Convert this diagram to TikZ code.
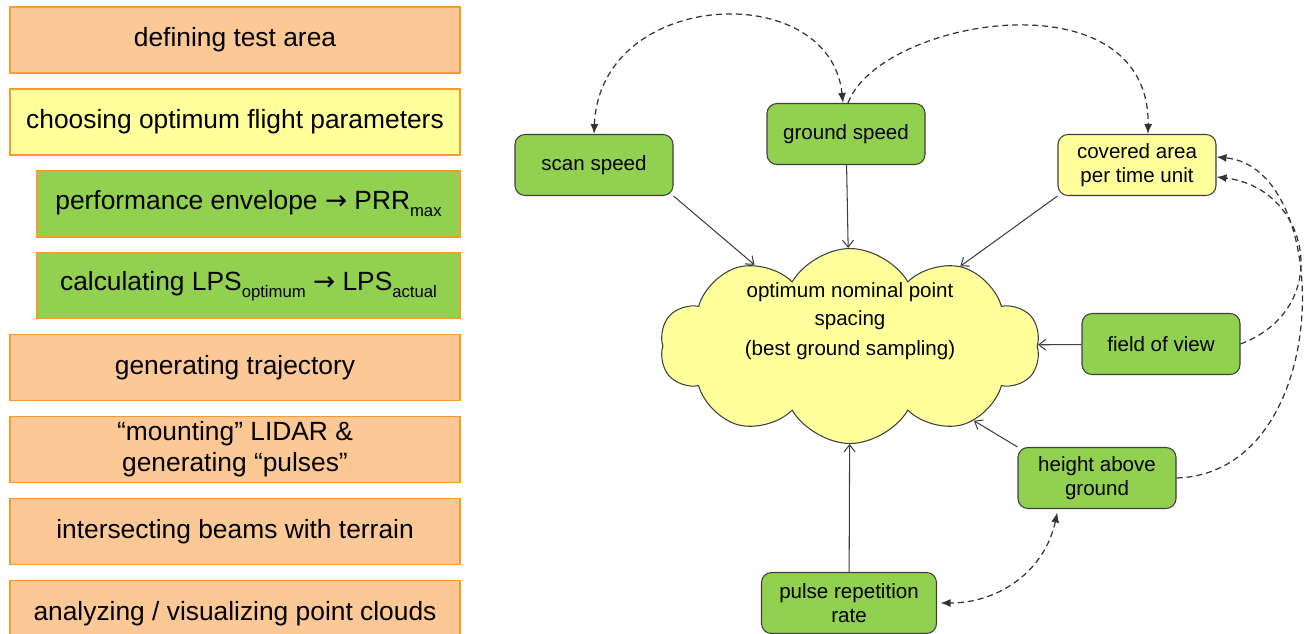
\documentclass[tikz,border=0pt]{standalone}
\usepackage{fontspec}
\setmainfont{Liberation Sans}
\newfontfamily\arrowfont{DejaVu Sans}
\usetikzlibrary{arrows.meta, positioning, shapes.symbols}

\definecolor{peach}{HTML}{FCC896}
\definecolor{peachline}{HTML}{F79B2E}
\definecolor{paleyellow}{HTML}{FFFF9C}
\definecolor{leafgreen}{HTML}{92D050}
\definecolor{boxline}{HTML}{3F3F3F}

\newcommand{\lowsub}[1]{\raisebox{-4pt}{\fontsize{9.5}{9.5}\selectfont #1}}
\newcommand{\thenarrow}{{\arrowfont →}}

\begin{document}
\begin{tikzpicture}

  % Define styles
  \tikzstyle{task} = [rectangle, draw=peachline, line width=0.8pt, fill=peach, minimum width=9cm, minimum height=1.32cm, inner sep=0pt, align=center, font=\fontsize{15}{17.6}\selectfont]
  \tikzstyle{task_sel} = [task, fill=paleyellow]
  \tikzstyle{task_sub} = [task, fill=leafgreen, minimum width=8.46cm]
  \tikzstyle{param} = [rectangle, rounded corners=2mm, draw=boxline, line width=0.6pt, fill=leafgreen, minimum width=3.16cm, minimum height=1.22cm, align=center, font=\fontsize{11.7}{14}\selectfont]
  \tikzstyle{param_hl} = [param, fill=paleyellow]
  \tikzstyle{spacing_cloud} = [cloud, cloud puffs=10, cloud puff arc=120, cloud ignores aspect, draw=boxline, line width=0.6pt, fill=paleyellow, minimum width=7.6cm, minimum height=3.9cm, inner sep=0pt, font=\fontsize{11.7}{15.9}\selectfont]
  \tikzstyle{link} = [draw=boxline, line width=0.6pt, -{Straight Barb[length=1.4mm, width=2.2mm]}]
  \tikzstyle{dep} = [draw=black!80, line width=0.7pt, dash pattern=on 1.2mm off 0.8mm, >={Latex[length=2mm, width=1.6mm]}]

  \useasboundingbox (0,0) rectangle (26.22,12.66);

  % Simulation workflow
  \node[task] (t1) at (4.7, 11.86) {defining test area};
  \node[task_sel] (t2) [below=0.29cm of t1] {choosing optimum flight parameters};
  \node[task_sub] (t3) [below=0.29cm of t2.south east, anchor=north east] {performance envelope \thenarrow{} PRR\lowsub{max}};
  \node[task_sub] (t4) [below=0.29cm of t3] {calculating LPS\lowsub{optimum} \thenarrow{} LPS\lowsub{actual}};
  \node[task] (t5) [below=0.29cm of t4.south east, anchor=north east] {generating trajectory};
  \node[task] (t6) [below=0.29cm of t5] {“mounting” LIDAR \&\\generating “pulses”};
  \node[task] (t7) [below=0.29cm of t6] {intersecting beams with terrain};
  \node[task] (t8) [below=0.29cm of t7] {analyzing / visualizing point clouds};

  % Flight parameters
  \node[param] (scan) at (11.88, 9.36) {scan speed};
  \node[param] (ground) at (16.92, 9.98) {ground speed};
  \node[param_hl] (area) at (22.74, 9.36) {covered area\\per time unit};
  \node[param] (fov) at (23.22, 5.78) {field of view};
  \node[param] (height) at (21.94, 3.10) {height above\\ground};
  \node[param, minimum width=3.5cm] (prr) at (16.98, 0.60) {pulse repetition\\rate};

  \node[spacing_cloud] (nps) at (17.0, 5.74) {\raisebox{0.40cm}[0pt][0pt]{\begin{tabular}{@{}c@{}}optimum nominal point\\spacing\\[1pt](best ground sampling)\end{tabular}}};

  % Influence on point spacing
  \draw[link] (scan.south east) -- (nps);
  \draw[link] (ground) -- (nps);
  \draw[link] (area.south west) -- (nps);
  \draw[link] (fov) -- (nps);
  \draw[link] (height.north west) -- (nps);
  \draw[link] (prr) -- (nps);

  % Dependencies between parameters
  \draw[dep, <->] (scan.north) .. controls (12.0, 12.9) and (16.6, 13.1) .. ([xshift=-0.06cm]ground.north);
  \draw[dep, ->] ([xshift=0.04cm]ground.north) .. controls (17.6, 12.3) and (23.0, 13.2) .. ([xshift=0.22cm]area.north);
  \draw[dep, ->] (fov.east) .. controls (26.7, 6.5) and (26.2, 8.9) .. ([yshift=-0.24cm]area.east);
  \draw[dep, ->] (height.east) .. controls (26.7, 3.2) and (26.7, 9.3) .. ([yshift=0.16cm]area.east);
  \draw[dep, <->, shorten <=2pt, shorten >=2pt] ([xshift=-0.78cm]height.south) .. controls (20.9, 1.26) and (20.0, 0.6) .. (prr.east);

\end{tikzpicture}
\end{document}
